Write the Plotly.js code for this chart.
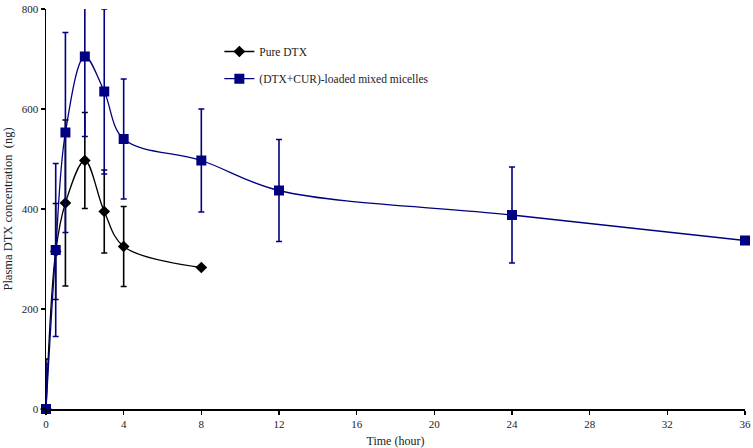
<!DOCTYPE html>
<html><head><meta charset="utf-8">
<script src="https://cdn.plot.ly/plotly-3.0.1.min.js"></script>
<style>html,body{margin:0;padding:0;background:#fff}</style>
</head><body><div id="chart" style="width:753px;height:448px"></div>
<script>
const timePure = [0, 0.5, 1, 2, 3, 4, 8];
const pureDTX = [0, 315, 412, 497, 395, 325, 283];
const pureErr = [100, 96, 166, 96, 83, 80, 0];
const timeMic = [0, 0.5, 1, 2, 3, 4, 8, 12, 24, 36];
const micelles = [0, 318, 553, 705, 635, 540, 497, 437, 388, 337];
const micErr = [90, 173, 200, 160, 165, 120, 103, 102, 96, 0];
const xTicks = [0, 4, 8, 12, 16, 20, 24, 28, 32, 36];
const yTicks = [0, 200, 400, 600, 800];

const fam = '"Liberation Serif", "Times New Roman", serif';
const font = {family: fam, size: 11, color: '#222'};
const traces = [
  {x: timePure, y: pureDTX, name: 'Pure DTX', type: 'scatter', mode: 'lines+markers', legend: 'legend',
   line: {color: '#000000', width: 1.3, shape: 'spline', smoothing: 1},
   marker: {symbol: 'diamond', size: 9, color: '#000000'},
   error_y: {type: 'data', array: pureErr, visible: true, color: '#000000', thickness: 1.6, width: 3},
   cliponaxis: false},
  {x: timeMic, y: micelles, name: '(DTX+CUR)-loaded mixed micelles', type: 'scatter', mode: 'lines+markers', legend: 'legend2',
   line: {color: '#000080', width: 1.3, shape: 'spline', smoothing: 1},
   marker: {symbol: 'square', size: 10, color: '#000080'},
   error_y: {type: 'data', array: micErr, visible: true, color: '#000080', thickness: 1.6, width: 3},
   cliponaxis: false}
];
const legendBase = {xanchor: 'left', yanchor: 'top', bgcolor: 'rgba(0,0,0,0)',
  font: {family: fam, size: 11.5, color: '#222'}, itemwidth: 30};
const layout = {
  width: 753, height: 448,
  margin: {l: 46, r: 8, t: 9, b: 39},
  paper_bgcolor: '#fff', plot_bgcolor: '#fff',
  font: font,
  showlegend: true,
  legend: Object.assign({}, legendBase, {x: 0.248, y: 0.93}),
  legend2: Object.assign({}, legendBase, {x: 0.248, y: 0.862}),
  xaxis: {range: [0, 36], tickvals: xTicks, ticktext: xTicks.map(String), ticks: 'outside', ticklen: 4,
          tickwidth: 1.2, tickcolor: '#000', showline: true, linecolor: '#000', linewidth: 1.5,
          showgrid: false, zeroline: false, tickfont: {family: fam, size: 11, color: '#222'},
          title: {text: 'Time (hour)', font: {family: fam, size: 12, color: '#222'}, standoff: 8}},
  yaxis: {range: [0, 800], tickvals: yTicks, ticktext: yTicks.map(String), ticks: 'outside', ticklen: 4,
          tickwidth: 1.2, tickcolor: '#000', showline: true, linecolor: '#000', linewidth: 1.5,
          showgrid: false, zeroline: false, tickfont: {family: fam, size: 11, color: '#222'},
          title: {text: 'Plasma DTX concentration  (ng)', font: {family: fam, size: 12.5, color: '#222'}, standoff: 6}}
};
Plotly.newPlot('chart', traces, layout, {displayModeBar: false, staticPlot: true});
</script></body></html>
